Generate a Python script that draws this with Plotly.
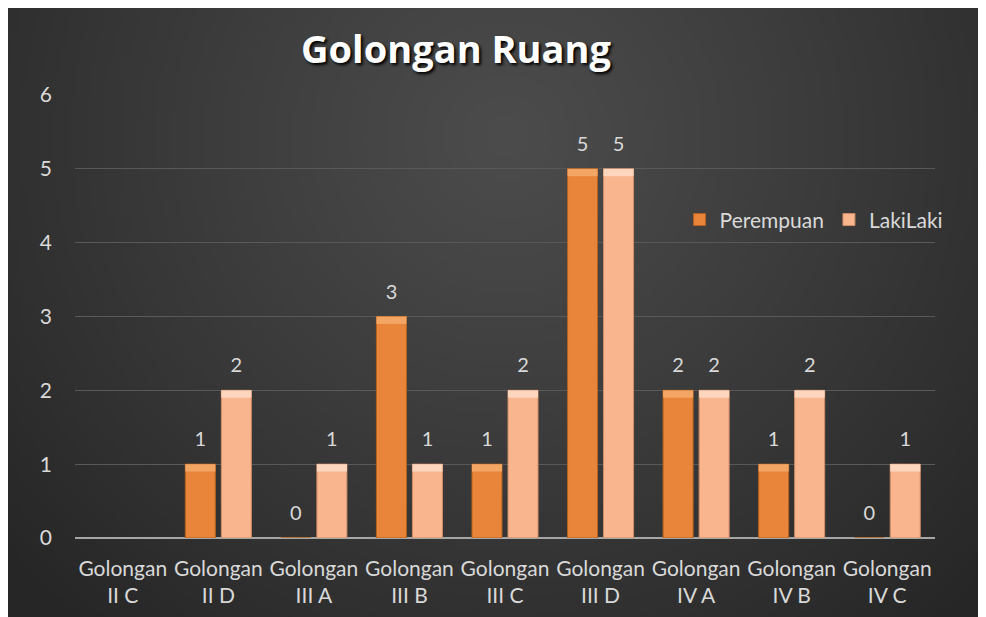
import base64
import struct
import zlib

import numpy as np
import plotly.graph_objects as go

categories = ["Golongan<br>II C", "Golongan<br>II D", "Golongan<br>III A",
              "Golongan<br>III B", "Golongan<br>III C", "Golongan<br>III D",
              "Golongan<br>IV A", "Golongan<br>IV B", "Golongan<br>IV C"]
perempuan = [None, 1, 0, 3, 1, 5, 2, 1, 0]
lakilaki = [None, 2, 1, 1, 2, 5, 2, 2, 1]
y_ticks = [0, 1, 2, 3, 4, 5, 6]

FONT = "Lato"
TXT = "#d9d9d9"


def radial_png(w, h):
    # dark radial gradient, lighter near the upper middle
    yy, xx = np.mgrid[0:h, 0:w]
    cx, cy = 0.48 * w, 0.22 * h
    d = np.sqrt(((xx - cx) / (0.62 * w)) ** 2 + ((yy - cy) / (0.95 * h)) ** 2)
    d = np.clip(d, 0, 1)
    c = 76 - (76 - 38) * d ** 1.1
    img = np.repeat(c[:, :, None], 3, axis=2).astype(np.uint8)
    raw = b"".join(b"\x00" + img[r].tobytes() for r in range(h))

    def chunk(tag, data):
        out = struct.pack(">I", len(data)) + tag + data
        return out + struct.pack(">I", zlib.crc32(tag + data) & 0xffffffff)

    png = b"\x89PNG\r\n\x1a\n"
    png += chunk(b"IHDR", struct.pack(">IIBBBBB", w, h, 8, 2, 0, 0, 0))
    png += chunk(b"IDAT", zlib.compress(raw, 9))
    png += chunk(b"IEND", b"")
    return "data:image/png;base64," + base64.b64encode(png).decode()


def caps(vals):
    return [None if v in (None, 0) else 0.1 for v in vals]


def cap_base(vals):
    return [None if v in (None, 0) else v - 0.1 for v in vals]


fig = go.Figure()
fig.add_trace(go.Bar(
    name="Perempuan", x=categories, y=perempuan, offsetgroup="p",
    marker=dict(color="#e8853a", line=dict(color="#b4621f", width=1)),
))
fig.add_trace(go.Bar(
    name="LakiLaki", x=categories, y=lakilaki, offsetgroup="l",
    marker=dict(color="#f8b58e", line=dict(color="#cf8c66", width=1)),
))
# bevel highlight on top of each bar
fig.add_trace(go.Bar(
    x=categories, y=caps(perempuan), base=cap_base(perempuan), offsetgroup="p",
    marker=dict(color="#f3a564", line=dict(width=0)), showlegend=False, hoverinfo="skip",
))
fig.add_trace(go.Bar(
    x=categories, y=caps(lakilaki), base=cap_base(lakilaki), offsetgroup="l",
    marker=dict(color="#fdd6bd", line=dict(width=0)), showlegend=False, hoverinfo="skip",
))
# value labels, lifted a little above the bars (invisible markers set the gap)
for vals, grp in ((perempuan, "p"), (lakilaki, "l")):
    fig.add_trace(go.Scatter(
        x=categories, y=vals, offsetgroup=grp, mode="markers+text",
        text=["" if v is None else str(v) for v in vals],
        textposition="top center", cliponaxis=False,
        marker=dict(size=19, opacity=0),
        textfont=dict(size=20, color=TXT, family=FONT),
        showlegend=False, hoverinfo="skip",
    ))

fig.add_layout_image(dict(
    source=radial_png(245, 153), xref="paper", yref="paper",
    x=-0.1, y=1.25, sizex=1.25, sizey=1.55,
    xanchor="left", yanchor="top", sizing="stretch", layer="below",
))

fig.update_layout(
    width=986, height=617,
    margin=dict(l=67, r=59, t=87, b=87),
    paper_bgcolor="#2a2a2a", plot_bgcolor="rgba(0,0,0,0)",
    barmode="group", bargap=0.246, bargroupgap=0.167,
    scattermode="group", scattergap=0.246,
    font=dict(family=FONT, color=TXT, size=20),
    title=dict(
        text="<b>Golongan Ruang</b>", x=448 / 986, xanchor="center",
        y=1 - 42 / 617, yanchor="middle",
        font=dict(family="Open Sans", size=38, color="white", shadow="2px 2px 3px #000"),
    ),
    legend=dict(
        orientation="h", x=0.703, y=0.718, xanchor="left", yanchor="middle",
        font=dict(size=21, color=TXT, family=FONT), bgcolor="rgba(0,0,0,0)",
    ),
    xaxis=dict(
        tickangle=0, showgrid=False, showline=False, ticks="",
        ticklabelstandoff=16, tickfont=dict(size=21, color=TXT),
    ),
    yaxis=dict(
        range=[0, 6], tickvals=y_ticks, showgrid=True, gridcolor="#595959",
        gridwidth=1, zeroline=True, zerolinecolor="#a6a6a6", zerolinewidth=2,
        ticks="", ticklabelstandoff=22, tickfont=dict(size=21, color=TXT),
    ),
    showlegend=True,
)

fig.write_html("out.html")
